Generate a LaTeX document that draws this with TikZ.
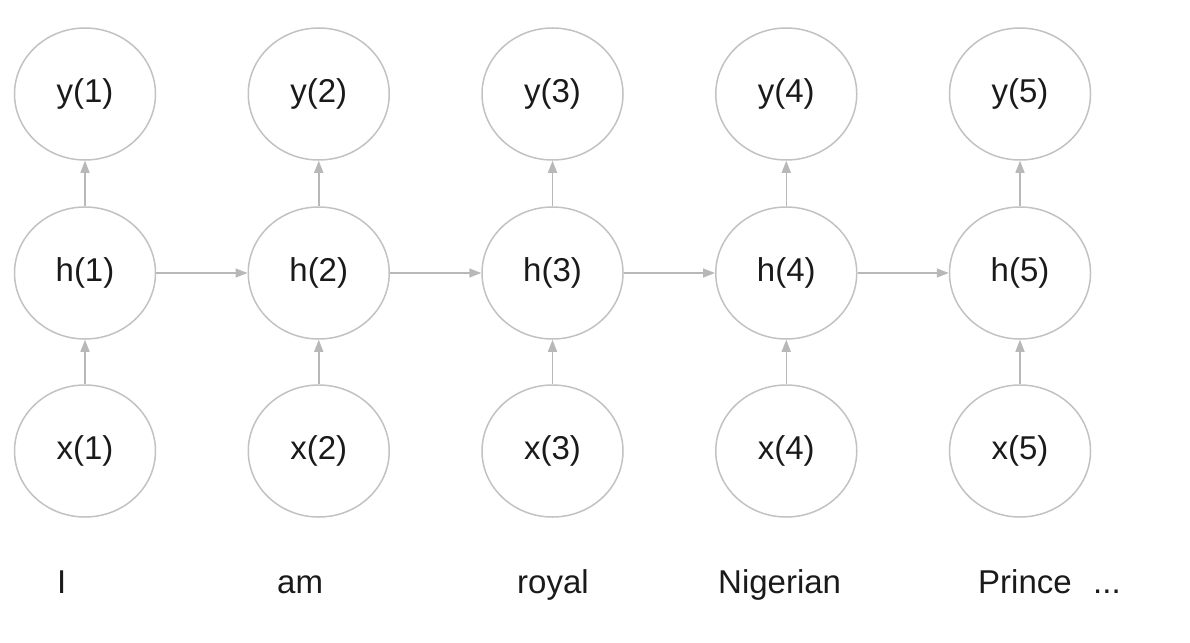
\documentclass[tikz,border=0pt]{standalone}
\usepackage{fontspec}
\setmainfont{Liberation Sans}
\usetikzlibrary{shapes.geometric,arrows.meta}
\definecolor{ringgray}{HTML}{C2C2C2}
\definecolor{arrowgray}{HTML}{B8B8B8}
\definecolor{inkblack}{HTML}{1A1A1A}
\begin{document}
\begin{tikzpicture}[x=1pt,y=-1pt,
  unit/.style={ellipse,draw=ringgray,line width=1.5pt,minimum width=141pt,minimum height=132pt,
    inner sep=0pt,text=inkblack,font=\fontsize{33}{40}\selectfont},
  conn/.style={draw=arrowgray,line width=1.5pt,-{Triangle[length=12pt,width=9pt]}},
  word/.style={anchor=base west,inner sep=0pt,text=inkblack,font=\fontsize{33}{40}\selectfont}]
\useasboundingbox (0,0) rectangle (1190,642);
\foreach \i/\cx in {1/85,2/318.75,3/552.5,4/786.25,5/1020}{
  \node[unit] (y\i) at (\cx,94) {y(\i)};
  \node[unit] (h\i) at (\cx,273) {h(\i)};
  \node[unit] (x\i) at (\cx,451) {x(\i)};
  \draw[conn] (h\i) -- (y\i);
  \draw[conn] (x\i) -- (h\i);
}
\foreach \a/\b in {1/2,2/3,3/4,4/5}{
  \draw[conn] (h\a) -- (h\b);
}
\node[word] (w1) at (57,593) {I};
\node[word] (w2) at (277,593) {am};
\node[word] (w3) at (517,593) {royal};
\node[word] (w4) at (718,593) {Nigerian};
\node[word] (w5) at (978,593) {Prince};
\node[word] (w6) at (1093,593) {...};
\end{tikzpicture}
\end{document}
